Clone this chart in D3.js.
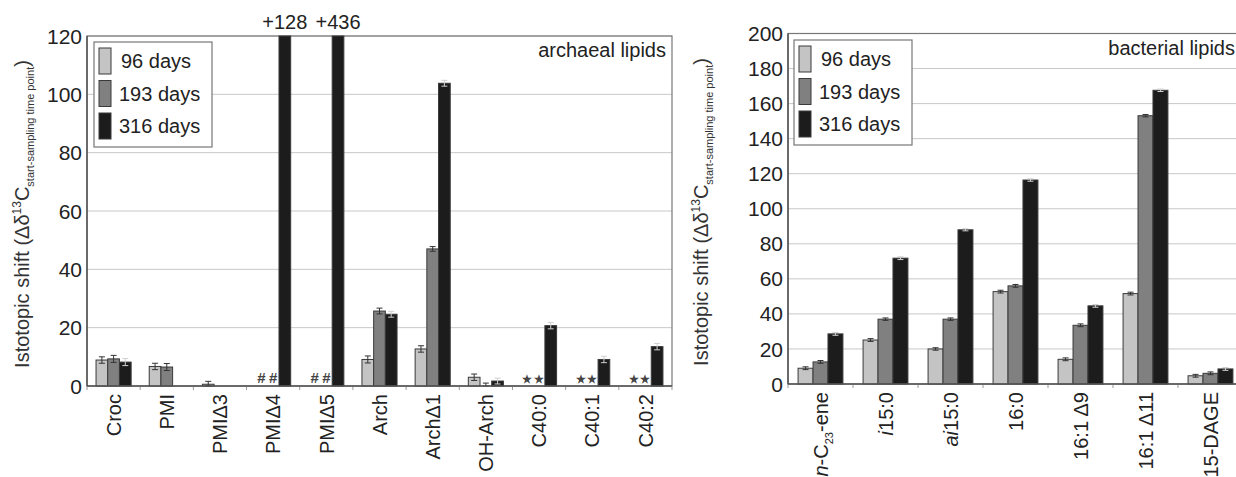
<!DOCTYPE html>
<html>
<head>
<meta charset="utf-8">
<script src="https://cdn.jsdelivr.net/npm/d3@7"></script>
<style>
	body { margin: 0; background: #fff; }
	svg { display: block; font-family: 'Liberation Sans', Arial, sans-serif; }
</style>
</head>
<body>
<div id="js_chart"></div>
<script>
'use strict';

// series
const seriesNames = ['96 days', '193 days', '316 days'];
const seriesColors = ['#c4c4c4', '#808080', '#1c1c1c'];

// archaeal lipids (left panel)
const archCats = ['Croc', 'PMI', 'PMI\u03943', 'PMI\u03944', 'PMI\u03945', 'Arch', 'Arch\u03941', 'OH-Arch', 'C40:0', 'C40:1', 'C40:2'];
const arch96 = [8.9, 6.7, 0.6, null, null, 9.1, 12.7, 3.0, null, null, null];
const arch193 = [9.3, 6.5, null, null, null, 25.7, 47.0, 0, null, null, null];
const arch316 = [8.2, null, null, 128, 436, 24.6, 103.8, 1.7, 20.7, 9.1, 13.5];
const arch96Err = [1.1, 1.1, 1.0, 0, 0, 1.2, 1.1, 1.1, 0, 0, 0];
const arch193Err = [1.2, 1.2, 0, 0, 0, 1.0, 0.8, 1.0, 0, 0, 0];
const arch316Err = [1.2, 0, 0, 0, 0, 1.0, 1.0, 1.0, 1.1, 1.1, 1.1];
// "#" / star flags where no value could be measured
const arch96Flag = ['', '', '', '#', '#', '', '', '', '\u2605', '\u2605', '\u2605'];
const arch193Flag = ['', '', '', '#', '#', '', '', '', '\u2605', '\u2605', '\u2605'];
const archTicks = [0, 20, 40, 60, 80, 100, 120];

// bacterial lipids (right panel)
const bactCats = ['<i>n</i>-C<sub>23</sub>-ene', '<i>i</i>15:0', '<i>ai</i>15:0', '16:0', '16:1 \u03949', '16:1 \u039411', '15-DAGE'];
const bact96 = [9.0, 25.1, 20.0, 52.7, 14.1, 51.6, 4.7];
const bact193 = [12.6, 37.0, 37.0, 56.0, 33.5, 153.1, 6.1];
const bact316 = [28.6, 71.8, 88.0, 116.4, 44.6, 167.6, 8.6];
const bact96Err = [0.8, 0.8, 0.7, 0.8, 0.8, 0.8, 0.8];
const bact193Err = [0.8, 0.7, 0.7, 0.8, 0.8, 0.7, 0.8];
const bact316Err = [0.8, 0.8, 0.6, 0.7, 0.8, 0.7, 0.8];
const bactTicks = [0, 20, 40, 60, 80, 100, 120, 140, 160, 180, 200];

const W = 1236, H = 477;
const svg = d3.select('#js_chart').append('svg')
	.attr('width', W)
	.attr('height', H);

function addMarkup(sel, markup) {
	// tiny parser for <i>..</i> and <sub>..</sub>
	const parts = markup.split(/(<i>.*?<\/i>|<sub>.*?<\/sub>)/).filter(function (p) { return p !== ''; });
	let shifted = 0;
	parts.forEach(function (p) {
		let t = sel.append('tspan');
		if (shifted) { t.attr('dy', -shifted); shifted = 0; }
		if (p.indexOf('<i>') === 0) {
			t.style('font-style', 'italic').text(p.replace(/<\/?i>/g, ''));
		} else if (p.indexOf('<sub>') === 0) {
			t.style('font-size', '11px').attr('dy', 5).text(p.replace(/<\/?sub>/g, ''));
			shifted = 5;
		} else {
			t.text(p);
		}
	});
}

function drawYTitle(x, yMid) {
	let t = svg.append('text')
		.attr('transform', 'translate(' + x + ',' + yMid + ') rotate(-90)')
		.attr('text-anchor', 'middle')
		.style('font-size', '20px')
		.style('fill', '#333');
	t.append('tspan').text('Istotopic shift (\u0394\u03b4');
	t.append('tspan').attr('dy', -8).style('font-size', '12px').text('13');
	t.append('tspan').attr('dy', 8).text('C');
	t.append('tspan').attr('dy', 5).style('font-size', '11px').text('start-sampling time point');
	t.append('tspan').attr('dy', -5).text(')');
}

function drawPanel(cfg) {
	const g = svg.append('g');
	const x = d3.scaleBand().domain(cfg.cats.map(function (d, i) { return i; }))
		.range([cfg.x0, cfg.x1]);
	const xs = d3.scaleBand().domain([0, 1, 2])
		.range([x.bandwidth() * cfg.pad, x.bandwidth() * (1 - cfg.pad)]);
	const y = d3.scaleLinear().domain([0, cfg.max]).range([cfg.y1, cfg.y0]).clamp(true);

	// gridlines
	g.selectAll('.grid').data(cfg.ticks.slice(1)).enter().append('line')
		.attr('x1', cfg.x0).attr('x2', cfg.x1)
		.attr('y1', function (d) { return y(d); }).attr('y2', function (d) { return y(d); })
		.style('stroke', '#c8c8c8').style('stroke-width', 1);

	// frame
	g.append('rect')
		.attr('x', cfg.x0).attr('y', cfg.y0)
		.attr('width', cfg.x1 - cfg.x0).attr('height', cfg.y1 - cfg.y0)
		.style('fill', 'none').style('stroke', '#777').style('stroke-width', 1.2);

	// y tick labels
	g.selectAll('.ylab').data(cfg.ticks).enter().append('text')
		.attr('x', cfg.x0 - 5).attr('y', function (d) { return y(d); })
		.attr('dy', '.36em').attr('text-anchor', 'end')
		.style('font-size', '21px').style('fill', '#222')
		.text(function (d) { return d; });

	// x band ticks
	g.selectAll('.xtick').data(d3.range(cfg.cats.length + 1)).enter().append('line')
		.attr('x1', function (d) { return cfg.x0 + d * x.bandwidth(); })
		.attr('x2', function (d) { return cfg.x0 + d * x.bandwidth(); })
		.attr('y1', cfg.y1).attr('y2', cfg.y1 + 4)
		.style('stroke', '#999').style('stroke-width', 1);

	// bars
	cfg.series.forEach(function (vals, s) {
		const grp = g.append('g');
		vals.forEach(function (v, i) {
			if (v === null) return;
			const bx = x(i) + xs(s);
			const h = y(0) - y(v);
			if (h > 0) {
				grp.append('rect')
					.attr('x', bx).attr('y', y(v))
					.attr('width', xs.bandwidth()).attr('height', h)
					.style('fill', seriesColors[s])
					.style('stroke', '#3a3a3a').style('stroke-width', 1);
			}
			const e = cfg.errors[s][i];
			if (e > 0 && v < cfg.max) {
				const cx = bx + xs.bandwidth() / 2;
				const ec = s === 2 ? '#d0d0d0' : '#333';
				grp.append('line')
					.attr('x1', cx).attr('x2', cx)
					.attr('y1', y(v + e)).attr('y2', y(Math.max(0, v - e)))
					.style('stroke', ec).style('stroke-width', 1);
				[v + e, Math.max(0, v - e)].forEach(function (ev) {
					grp.append('line')
						.attr('x1', cx - 3).attr('x2', cx + 3)
						.attr('y1', y(ev)).attr('y2', y(ev))
						.style('stroke', ec).style('stroke-width', 1);
				});
			}
		});
	});

	// flags (#, star)
	if (cfg.flags) {
		cfg.flags.forEach(function (fl, s) {
			fl.forEach(function (f, i) {
				if (!f) return;
				g.append('text')
					.attr('x', x(i) + xs(s) + xs.bandwidth() / 2)
					.attr('y', cfg.y1 - 3)
					.attr('text-anchor', 'middle')
					.style('font-size', f === '#' ? '15px' : '11px')
					.style('font-weight', 'bold')
					.style('fill', '#444')
					.text(f);
			});
		});
	}

	// overflow labels for clipped bars
	cfg.series.forEach(function (vals, s) {
		vals.forEach(function (v, i) {
			if (v !== null && v > cfg.max) {
				g.append('text')
					.attr('x', x(i) + xs(s) + xs.bandwidth() / 2)
					.attr('y', cfg.y0 - 7)
					.attr('text-anchor', 'middle')
					.style('font-size', '20px').style('fill', '#222')
					.text('+' + v);
			}
		});
	});

	// axes
	g.append('line').attr('x1', cfg.x0).attr('x2', cfg.x0).attr('y1', cfg.y0).attr('y2', cfg.y1)
		.style('stroke', '#555').style('stroke-width', 1.5);
	g.append('line').attr('x1', cfg.x0).attr('x2', cfg.x1).attr('y1', cfg.y1).attr('y2', cfg.y1)
		.style('stroke', '#555').style('stroke-width', 1.5);

	// category labels
	cfg.cats.forEach(function (c, i) {
		const t = g.append('text')
			.attr('transform', 'translate(' + (x(i) + x.bandwidth() / 2) + ',' + (cfg.y1 + 8) + ') rotate(-90)')
			.attr('text-anchor', 'end').attr('dy', '.36em')
			.style('font-size', '20px').style('fill', '#222');
		addMarkup(t, c);
	});

	// legend
	const lg = g.append('g').attr('transform', 'translate(' + cfg.legend[0] + ',' + cfg.legend[1] + ')');
	lg.append('rect').attr('width', 118).attr('height', 105)
		.style('fill', '#fff').style('stroke', '#777').style('stroke-width', 1.2);
	seriesNames.forEach(function (n, s) {
		lg.append('rect')
			.attr('x', 5).attr('y', 6 + s * 32.5)
			.attr('width', 12).attr('height', 26)
			.style('fill', seriesColors[s]).style('stroke', '#3a3a3a').style('stroke-width', 1);
		lg.append('text')
			.attr('x', s === 0 ? 27 : 25).attr('y', 19 + s * 32.5).attr('dy', '.36em')
			.style('font-size', '20px').style('fill', '#222')
			.text(n);
	});

	// panel title
	g.append('text')
		.attr('x', cfg.titleX).attr('y', cfg.y0 + 21)
		.attr('text-anchor', 'end')
		.style('font-size', '20px').style('fill', '#222')
		.text(cfg.title);
}

drawYTitle(29, 214);
drawPanel({
	cats: archCats,
	series: [arch96, arch193, arch316],
	errors: [arch96Err, arch193Err, arch316Err],
	flags: [arch96Flag, arch193Flag],
	ticks: archTicks, max: 120,
	x0: 87, x1: 672, y0: 36, y1: 386, pad: 0.17,
	legend: [94, 42],
	title: 'archaeal lipids', titleX: 666
});

drawYTitle(708, 212);
drawPanel({
	cats: bactCats,
	series: [bact96, bact193, bact316],
	errors: [bact96Err, bact193Err, bact316Err],
	ticks: bactTicks, max: 200,
	x0: 788, x1: 1243, y0: 33.5, y1: 384, pad: 0.155,
	legend: [794, 40],
	title: 'bacterial lipids', titleX: 1235
});
</script>
</body>
</html>
